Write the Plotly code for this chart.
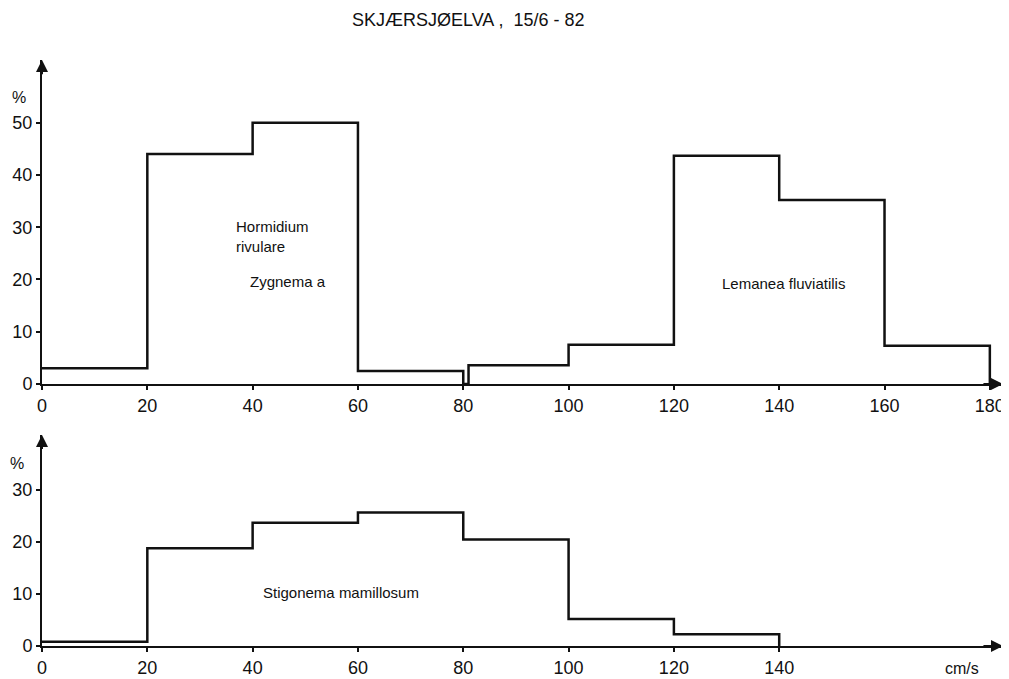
import plotly.graph_objects as go

# top panel: Hormidium / Zygnema / Lemanea, step edges in cm/s and % cover
top_speed = [0, 20, 40, 60, 80, 81, 100, 120, 140, 160, 180]
top_pct = [3, 44, 50, 2.5, 0, 3.6, 7.5, 43.7, 35.2, 7.3, 0]
# bottom panel: Stigonema mamillosum
bot_speed = [0, 20, 40, 60, 80, 100, 120, 140]
bot_pct = [0.8, 18.8, 23.7, 25.7, 20.5, 5.2, 2.25, 0]

top_xticks = [0, 20, 40, 60, 80, 100, 120, 140, 160, 180]
bot_xticks = [0, 20, 40, 60, 80, 100, 120, 140]
top_yticks = [0, 10, 20, 30, 40, 50]
bot_yticks = [0, 10, 20, 30]

title = "SKJÆRSJØELVA ,  15/6 - 82"
OFF = 8  # page body margin
W, H = 1009 - OFF, 679 - OFF
ink = "#111111"
FONT = "Liberation Sans, Arial, sans-serif"

fig = go.Figure()
fig.add_trace(go.Scatter(x=top_speed, y=top_pct, mode="lines", line=dict(shape="hv", color=ink, width=2.5),
                         xaxis="x", yaxis="y", showlegend=False, hoverinfo="x+y"))
fig.add_trace(go.Scatter(x=bot_speed, y=bot_pct, mode="lines", line=dict(shape="hv", color=ink, width=2.5),
                         xaxis="x2", yaxis="y2", showlegend=False, hoverinfo="x+y"))

# screen pixel -> paper fraction
def px_x(p): return (p - OFF) / W
def px_y(p): return 1 - (p - OFF) / H

xmax = 182.5
ax_common = dict(showline=True, linecolor=ink, linewidth=2, ticks="outside", ticklen=4, tickwidth=2,
                 tickcolor=ink, showgrid=False, zeroline=False, automargin=False,
                 tickfont=dict(size=18, color=ink, family=FONT))
fig.update_layout(
    width=W, height=H, autosize=False, margin=dict(l=0, r=0, t=0, b=0, pad=0),
    paper_bgcolor="white", plot_bgcolor="white", font=dict(family=FONT, color=ink),
    xaxis=dict(domain=[px_x(42), px_x(1003)], range=[0, xmax], anchor="y", tickvals=top_xticks, **ax_common),
    yaxis=dict(domain=[px_y(384), px_y(60)], range=[0, 62], anchor="x", tickvals=top_yticks, **ax_common),
    xaxis2=dict(domain=[px_x(42), px_x(1003)], range=[0, xmax], anchor="y2", tickvals=bot_xticks, **ax_common),
    yaxis2=dict(domain=[px_y(646), px_y(435)], range=[0, 40.6], anchor="x2", tickvals=bot_yticks, **ax_common),
)

ann = []
# axis arrows
for xr, yr, ytop in [("x", "y", 62), ("x2", "y2", 40.6)]:
    ann.append(dict(x=xmax, y=0, ax=xmax - 4, ay=0, xref=xr, yref=yr, axref=xr, ayref=yr, text="",
                    showarrow=True, arrowhead=2, arrowsize=1.2, arrowwidth=2, arrowcolor=ink))
    ann.append(dict(x=0, y=ytop, ax=0, ay=ytop - 3, xref=xr, yref=yr, axref=xr, ayref=yr, text="",
                    showarrow=True, arrowhead=2, arrowsize=1.2, arrowwidth=2, arrowcolor=ink))

lab = dict(size=15, color=ink, family=FONT)
mid = dict(xanchor="center", yanchor="middle", showarrow=False)
ann += [
    dict(text=title, x=px_x(468), y=px_y(20), xref="paper", yref="paper", font=dict(size=18, color=ink, family=FONT), **mid),
    dict(text="%", x=px_x(19), y=px_y(97), xref="paper", yref="paper", font=dict(size=16, color=ink, family=FONT), **mid),
    dict(text="%", x=px_x(17), y=px_y(463), xref="paper", yref="paper", font=dict(size=16, color=ink, family=FONT), **mid),
    dict(text="Hormidium<br>rivulare", x=36.4, y=28.2, xref="x", yref="y", xanchor="left", yanchor="middle",
         align="left", showarrow=False, font=lab),
    dict(text="Zygnema a", x=39.2, y=19.7, xref="x", yref="y", xanchor="left", yanchor="middle", showarrow=False, font=lab),
    dict(text="Lemanea fluviatilis", x=140.9, y=19.3, xref="x", yref="y", font=lab, **mid),
    dict(text="Stigonema mamillosum", x=41.5, y=10.2, xref="x2", yref="y2", xanchor="left", yanchor="middle",
         showarrow=False, font=lab),
    dict(text="cm/s", x=px_x(962), y=px_y(668), xref="paper", yref="paper", font=dict(size=16, color=ink, family=FONT), **mid),
]
fig.update_layout(annotations=ann)
fig.write_html("out.html")
